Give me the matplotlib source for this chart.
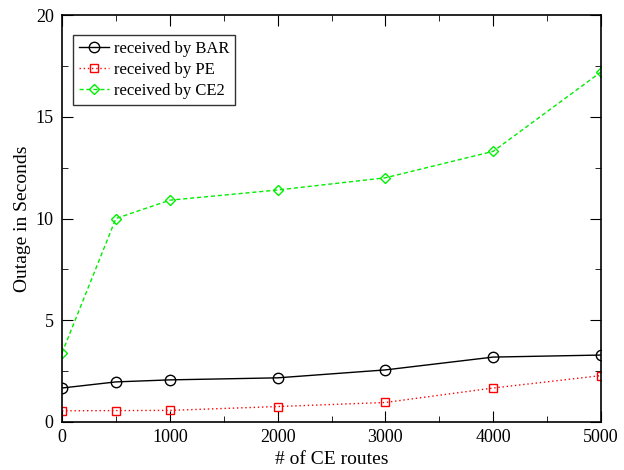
import matplotlib
matplotlib.use("Agg")
import matplotlib.pyplot as plt
from matplotlib.ticker import MultipleLocator

plt.rcParams['font.family'] = ['Liberation Serif', 'DejaVu Serif']

routes = [0, 500, 1000, 2000, 3000, 4000, 5000]
bar_vals = [1.67, 1.97, 2.07, 2.17, 2.56, 3.19, 3.29]
pe_vals = [0.55, 0.56, 0.57, 0.76, 0.96, 1.67, 2.28]
ce2_vals = [3.39, 10.0, 10.9, 11.4, 12.0, 13.3, 17.2]
xticks = [0, 1000, 2000, 3000, 4000, 5000]
yticks = [0, 5, 10, 15, 20]

fig = plt.figure(figsize=(6.24, 4.70), dpi=100)
ax = fig.add_axes([62/624, 1-422/470, (601-62)/624, (422-15)/470])

ax.plot(routes, bar_vals, color='black', lw=1.0, marker='o', ms=7.5,
        mfc='none', mec='black', mew=1.0, label='received by BAR')
ax.plot(routes, pe_vals, color='#ff0000', lw=1.0, ls=(0, (1, 2)), marker='s', ms=6,
        mfc='none', mec='#ff0000', mew=1.0, label='received by PE')
ax.plot(routes, ce2_vals, color='#00ee00', lw=1.0, ls=(0, (3, 2)), marker='D', ms=5,
        mfc='none', mec='#00ee00', mew=1.0, label='received by CE2')

ax.set_xlim(0, 5000)
ax.set_ylim(0, 20)
ax.set_xticks(xticks)
ax.set_yticks(yticks)
ax.xaxis.set_minor_locator(MultipleLocator(500))
ax.yaxis.set_minor_locator(MultipleLocator(2.5))
ax.tick_params(which='both', direction='in', top=True, right=True, labelsize=13)
ax.tick_params(which='major', length=8)
ax.tick_params(which='minor', length=4)
ax.tick_params(axis='y', pad=6)
ax.tick_params(axis='x', pad=5)
for s in ax.spines.values():
    s.set_linewidth(1.2)

ax.set_xlabel('# of CE routes', fontsize=14, labelpad=4)
ax.set_ylabel('Outage in Seconds', fontsize=14, labelpad=3)

leg = ax.legend(loc='upper left', bbox_to_anchor=(0.02, 0.95), fontsize=12,
                frameon=True, fancybox=False, edgecolor='black', handlelength=1.8,
                handletextpad=0.3, borderpad=0.35, labelspacing=0.3, borderaxespad=0)
leg.get_frame().set_linewidth(1.0)

fig.savefig('out.png', dpi=100)
